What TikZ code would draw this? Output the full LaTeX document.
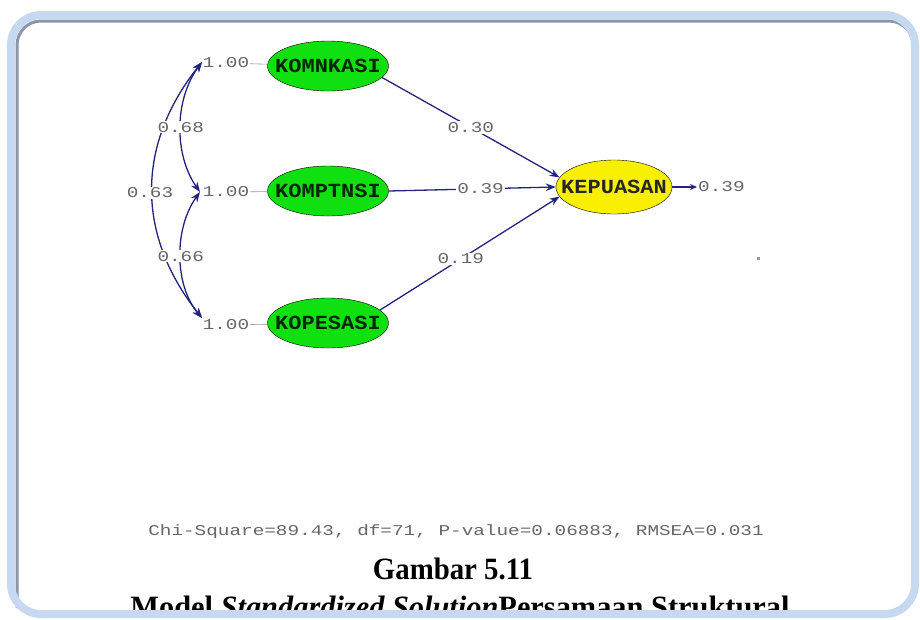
\documentclass[tikz,border=0pt]{standalone}
\usepackage{fontspec}
\setmainfont{Liberation Serif}
\newfontfamily\lisrel{Liberation Mono}
\usetikzlibrary{shapes.geometric,arrows.meta}
\definecolor{navy}{RGB}{36,36,128}
\definecolor{framebl}{RGB}{198,217,240}
\definecolor{frameg}{RGB}{140,150,170}
\definecolor{lvgreen}{RGB}{16,224,16}
\definecolor{lvyellow}{RGB}{248,240,0}
\newcommand{\lis}[1]{{\lisrel\fontsize{15}{15}\selectfont\scalebox{1.29}[1]{#1}}}
\newcommand{\lvname}[1]{{\lisrel\bfseries\fontsize{20}{20}\selectfont\scalebox{1.1}[1]{#1}}}
\begin{document}
\begin{tikzpicture}[x=1pt,y=-1pt,
  latent/.style={ellipse,draw=black,fill=lvgreen,minimum width=121pt,
    minimum height=50pt,inner ysep=0pt,inner xsep=-22pt,text=black!85!green},
  endo/.style={latent,fill=lvyellow,minimum width=116pt,minimum height=54pt,
    text=black!85},
  val/.style={text=black!60,inner sep=1pt},
  coef/.style={draw=navy,line width=1.3pt,-{Stealth[length=10pt,width=7.5pt]}},
  cov/.style={draw=navy,line width=1.3pt,
    {Stealth[length=10pt,width=7.5pt]}-{Stealth[length=10pt,width=7.5pt]}},
  link/.style={draw=black!40,line width=0.6pt}]
  \useasboundingbox (0,0) rectangle (920,619);
  \fill[white] (0,0) rectangle (920,619);

  % latent variables
  \node[latent] (komnkasi) at (328,66) {\lvname{KOMNKASI}};
  \node[latent] (komptnsi) at (328,191) {\lvname{KOMPTNSI}};
  \node[latent] (kopesasi) at (328,323) {\lvname{KOPESASI}};
  \node[endo] (kepuasan) at (614,187) {\lvname{KEPUASAN}};

  % variances
  \node[val] (one1) at (226,63) {\lis{1.00}};
  \node[val] (one2) at (226,192) {\lis{1.00}};
  \node[val] (one3) at (226,325) {\lis{1.00}};
  \draw[link] (one1) -- (komnkasi);
  \draw[link] (one2) -- (komptnsi);
  \draw[link] (one3) -- (kopesasi);
  \coordinate (t1) at (202,62);
  \coordinate (t2) at (200,192);
  \coordinate (t3) at (202,318);

  % correlations
  \draw[cov] (t1) .. controls (136,145) and (136,235) .. (t3);
  \node[val,fill=white] (r13) at (150,193) {\lis{0.63}};
  \draw[cov] (t1) .. controls (174,100) and (174,155) ..
    node[val,fill=white] (r12) {\lis{0.68}} (t2);
  \draw[cov] (t2) .. controls (174,228) and (174,285) ..
    node[val,fill=white] (r23) {\lis{0.66}} (t3);

  % paths
  \draw[coef] (komnkasi.-12) -- node[val,fill=white,pos=.5] {\lis{0.30}}
    (kepuasan.170);
  \draw[coef] (komptnsi.east) -- node[val,fill=white,pos=.55] {\lis{0.39}}
    (kepuasan.west);
  \draw[coef] (kopesasi.14) -- node[val,fill=white,pos=.45] {\lis{0.19}}
    (kepuasan.190);
  \coordinate (err) at (697,187);
  \draw[coef,-{Stealth[length=7pt,width=6pt]}] (kepuasan.east) -- (err);
  \node[val,right] (e1) at (err) {\lis{0.39}};
  \fill[black!40] (757,257) rectangle (760,260);

  \node[val] (fit) at (456,532)
    {\lis{Chi-Square=89.43, df=71, P-value=0.06883, RMSEA=0.031}};

  % caption
  \node[anchor=base,inner sep=0pt] (cap1) at (453,579)
    {\scalebox{0.93}[1]{\fontsize{31}{31}\selectfont\bfseries Gambar 5.11}};
  \node[anchor=base,inner sep=0pt] (cap2) at (460,617)
    {\scalebox{0.98}[1]{\fontsize{31}{31}\selectfont\bfseries Model
     \textit{Standardized Solution}Persamaan Struktural}};

  % frame
  \fill[white] (0,616) rectangle (920,619);
  \draw[frameg,line width=3pt,rounded corners=24pt]
    (17,608) -- (17,21) -- (913,21) -- (913,40);
  \draw[framebl,line width=8pt,rounded corners=30pt] (11,15) rectangle (915,614);
\end{tikzpicture}
\end{document}
